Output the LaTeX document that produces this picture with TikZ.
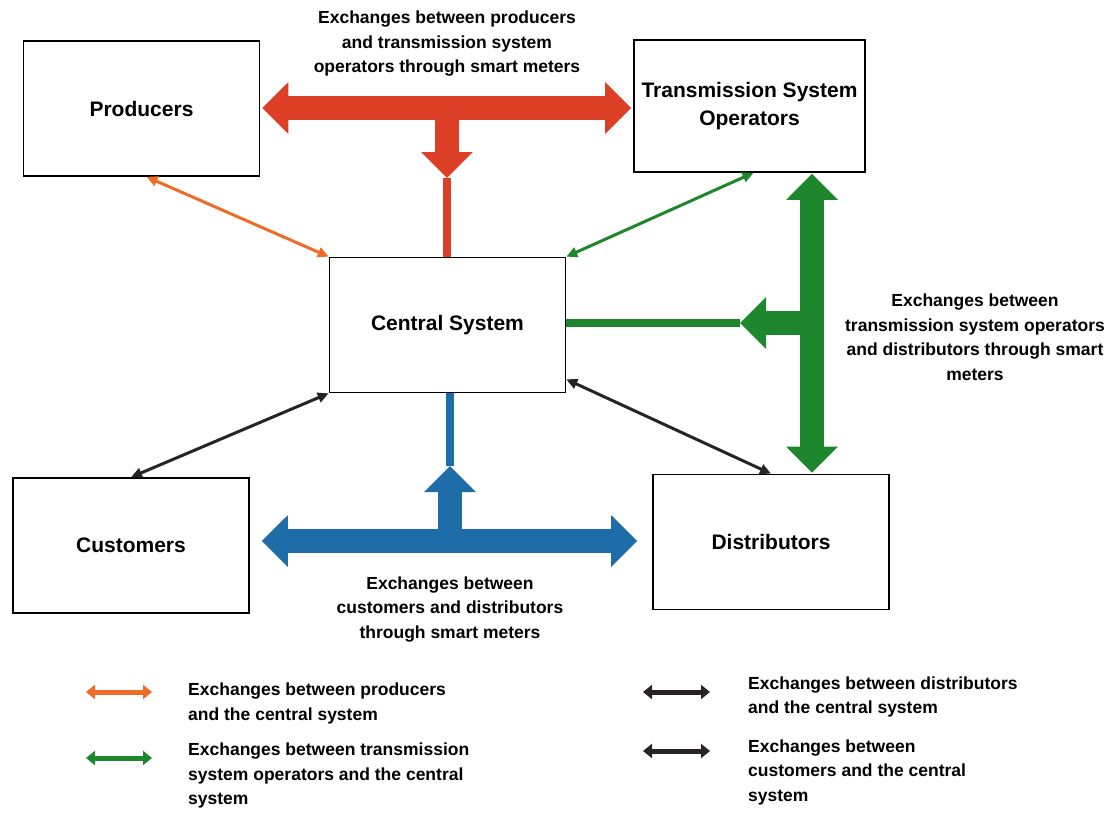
\documentclass[tikz,border=0pt]{standalone}
\usepackage{fontspec}
\setmainfont{Liberation Sans}
\usetikzlibrary{arrows.meta}
\definecolor{redarr}{RGB}{220,62,38}
\definecolor{orgarr}{RGB}{238,108,40}
\definecolor{grnarr}{RGB}{30,134,44}
\definecolor{bluarr}{RGB}{30,108,168}
\definecolor{blkarr}{RGB}{40,36,36}
\begin{document}
\begin{tikzpicture}[x=1pt,y=-1pt,
  box/.style={draw,line width=1.6pt,minimum width=236pt,minimum height=135pt,
    font=\fontsize{21}{28}\selectfont\bfseries,align=center},
  note/.style={inner sep=0pt,font=\fontsize{17.5}{24.5}\selectfont\bfseries,align=center},
  key/.style={note,align=left,anchor=west},
  fat/.style={line width=24pt,{Triangle[length=26pt,width=50pt]}-{Triangle[length=26pt,width=50pt]}},
  fatone/.style={line width=24pt,-{Triangle[length=26pt,width=50pt]}},
  stem/.style={line width=8pt},
  thin/.style={line width=3pt,{Triangle[length=11pt,width=10pt]}-{Triangle[length=11pt,width=10pt]}},
  keyarr/.style={line width=5pt,{Triangle[length=9pt,width=14pt]}-{Triangle[length=9pt,width=14pt]}}]
\useasboundingbox (0,0) rectangle (1114,814);
\node[box] (prod) at (141.5,108.5) {Producers};
\node[box,minimum width=231pt,minimum height=132pt] (tso) at (749.5,106) {Transmission System\\Operators};
\node[box] (cen) at (447.5,325) {Central System};
\node[box] (cust) at (131,545.5) {Customers};
\node[box] (dist) at (771,542) {Distributors};
\node[note] (ntop) at (447,44) {Exchanges between producers\\and transmission system\\operators through smart meters};
\node[note] (nright) at (975,337) {Exchanges between\\transmission system operators\\and distributors through smart\\meters};
\node[note] (nbot) at (450,609.5) {Exchanges between\\customers and distributors\\through smart meters};
\coordinate (rx) at (447,108);
\coordinate (rdown) at (447,178);
\draw[fat,redarr,shorten <=2pt,shorten >=2pt] (prod.east |- rx) -- (tso.west |- rx);
\draw[fatone,redarr] (rx) -- (rdown);
\draw[stem,redarr] (rdown) -- (cen.north -| rdown);
\coordinate (gx) at (812,323);
\coordinate (gl) at (740,323);
\draw[fat,grnarr,shorten <=1pt,shorten >=1pt] (tso.south -| gx) -- (dist.north -| gx);
\draw[fatone,grnarr] (gx) -- (gl);
\draw[stem,grnarr] (gl) -- (cen.east |- gl);
\coordinate (bx) at (450,541);
\coordinate (bup) at (450,466);
\draw[fat,bluarr,shorten <=12pt,shorten >=15pt] (cust.east |- bx) -- (dist.west |- bx);
\draw[fatone,bluarr] (bx) -- (bup);
\draw[stem,bluarr] (bup) -- (cen.south -| bup);
\draw[thin,orgarr] ([xshift=5pt]prod.south) -- (cen.north west);
\draw[thin,grnarr] ([xshift=4pt]tso.south) -- (cen.north east);
\draw[thin,blkarr] (cen.south west) -- (cust.north);
\draw[thin,blkarr] ([yshift=14pt]cen.south east) -- (dist.north);
\coordinate (k1a) at (86,692);
\coordinate (k1b) at (152,692);
\coordinate (k2a) at (86,758);
\coordinate (k2b) at (152,758);
\coordinate (k3a) at (643,692);
\coordinate (k3b) at (710,692);
\coordinate (k4a) at (643,751);
\coordinate (k4b) at (710,751);
\draw[keyarr,orgarr] (k1a) -- (k1b);
\draw[keyarr,grnarr] (k2a) -- (k2b);
\draw[keyarr,blkarr] (k3a) -- (k3b);
\draw[keyarr,blkarr] (k4a) -- (k4b);
\node[key] (key1) at (188,703.5) {Exchanges between producers\\and the central system};
\node[key] (key2) at (188,775.5) {Exchanges between transmission\\system operators and the central\\system};
\node[key] (key3) at (748,697) {Exchanges between distributors\\and the central system};
\node[key] (key4) at (748,772) {Exchanges between\\customers and the central\\system};
\end{tikzpicture}
\end{document}
